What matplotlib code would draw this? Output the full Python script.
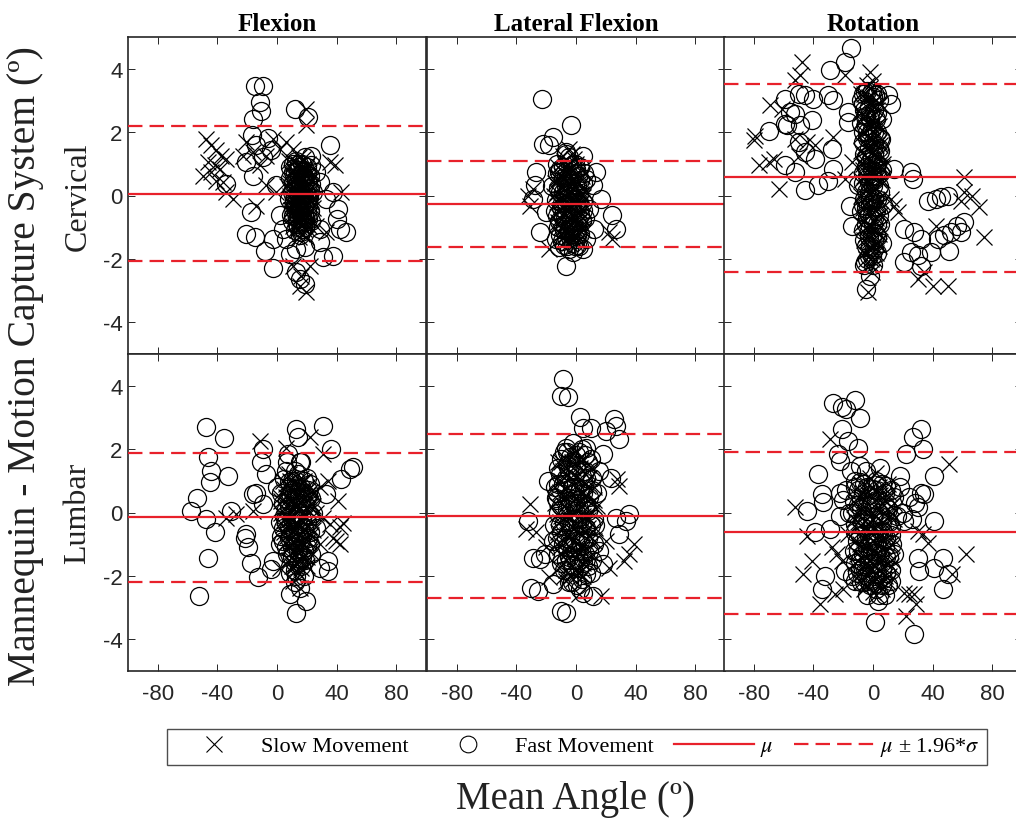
import matplotlib
matplotlib.use("Agg")
import matplotlib.pyplot as plt
from matplotlib.lines import Line2D
import numpy as np

plt.rcParams['font.family'] = ['Liberation Sans', 'DejaVu Sans']
plt.rcParams['mathtext.fontset'] = 'stix'
plt.rcParams['axes.unicode_minus'] = False

SERIF = ['Liberation Serif', 'DejaVu Serif']

col_titles = ['Flexion', 'Lateral Flexion', 'Rotation']
row_titles = ['Cervical', 'Lumbar']
x_ticks = [-80, -40, 0, 40, 80]
y_ticks = [-4, -2, 0, 2, 4]

# (mean, mean - 1.96 sd, mean + 1.96 sd) per panel
cerv_flex_lines = (0.05, -2.08, 2.18)
cerv_lat_lines = (-0.26, -1.63, 1.08)
cerv_rot_lines = (0.58, -2.40, 3.53)
lumb_flex_lines = (-0.14, -2.19, 1.88)
lumb_lat_lines = (-0.10, -2.70, 2.47)
lumb_rot_lines = (-0.63, -3.19, 1.92)

# points: (mean angle, difference)
cerv_flex_slow = [
    (-47.4, 1.79), (-44, 1.58), (-40.7, 1.42), (-37.4, 1.26), (-46.3, 1.05), (-41.8, 0.95),
    (-49.7, 0.63), (-44, 0.74), (-38.5, 0.84), (-34, 1.16), (-29.5, -0.1), (-34, 0.1),
    (-40.7, 0.47), (-36.2, 0.42), (-20.6, 1.68), (-16, 1.37), (-11.6, 0.95), (-7.2, 1.26),
    (-22.8, 1.26), (-2.7, 1.79), (1.8, 1.47), (6.3, 1.68), (10.7, 1.47), (19.7, 2.74),
    (19.7, 2.21), (35.3, 1.05), (38.7, 0.95), (43.2, 0.1), (-7.2, 0.32), (-13.9, -0.32),
    (-0.4, 0.1), (15.2, -2.84), (19.7, -3.05), (16.3, -2.53), (10.7, -2.21), (21.9, -2.21),
    (26.4, -0.95), (33, -1.16),
    (8, 1.1), (12, 0.9), (15, 1.2), (18, 0.8), (21, 1.0), (10, 0.5), (14, 0.4), (17, 0.6),
    (20, 0.3), (23, 0.5), (9, 0.0), (12, -0.2), (16, 0.1), (19, -0.3), (22, 0.0), (11, -0.6),
    (14, -0.8), (17, -0.5), (20, -0.9), (24, -0.4), (7, 0.3), (13, 0.7), (16, -0.2), (18, 0.2),
    (15, -1.0), (12, 0.2), (19, 0.9), (10, -0.3), (21, -0.6), (17, -1.2), (13, -0.4), (16, 0.8),
    (14, 1.0), (11, 0.8), (20, 0.6),
    (9.5, 0.7), (12.5, 0.55), (15.5, 0.85), (18.5, 0.45), (21.5, 0.75), (10.5, 0.15),
    (13.5, 0.05), (16.5, 0.35), (19.5, 0.1), (22.5, -0.15), (9.5, -0.45), (12.5, -0.65),
    (15.5, -0.45), (18.5, -0.75), (21.5, -0.95), (13.5, -1.1), (16.5, -0.95), (19.5, -1.3),
    (11.5, 1.05), (17.5, 1.15), (14.5, -0.1), (20.5, 0.05),
    (8.5, 0.4), (11, 0.25), (13, -0.05), (15, 0.35), (17, 0.2), (19, 0.65), (21, 0.15),
    (23, -0.2), (10, -0.1), (12, -0.45), (14, -0.2), (16, -0.65), (18, -0.4), (20, -0.55),
    (22, -0.75), (11, -0.95), (13, -0.7), (15, -1.3), (18, -1.05), (16, 0.55), (14, 0.15),
    (12, 0.65), (19, 0.25), (17, -0.05), (15, 0.95),
]
cerv_flex_fast = [
    (-15, 3.47), (-9.4, 3.45), (-11.6, 2.95), (-10.5, 2.68), (-16, 2.42), (11.9, 2.74),
    (20.8, 2.47), (-17, 1.9), (-14, 1.58), (-6, 1.8), (-3.8, 1.42), (-9.4, 1.2), (-20.6, 1.05),
    (-16, 0.63), (-34, 0.37), (-17.2, -0.53), (-20.6, -1.21), (-15, -1.32), (-8.3, -1.74),
    (-2.7, -2.3), (8.5, -1.84), (13, -1.68), (18.6, -1.63), (28.6, -1.47), (37.6, -1.9),
    (30.9, -1.95), (35.3, 1.58), (37.6, 0.1), (41, -0.42), (46.5, -1.16), (42, -1.05),
    (28.6, -1.05), (33, -0.1), (26.4, 0.74), (23, 1.26), (4, -1.05), (1.8, -0.63), (-0.4, 0.32),
    (15.2, -2.63), (18.6, -2.79), (13, -2.42), (28.6, 0.42), (40, -0.74), (-2.7, -1.37),
    (6.3, -1.37),
    (9, 0.9), (13, 1.1), (17, 1.0), (20, 0.7), (11, 0.4), (15, 0.6), (19, 0.4), (22, 0.2),
    (8, -0.1), (12, 0.0), (16, -0.3), (18, -0.1), (21, -0.3), (10, -0.8), (14, -0.5), (17, -0.8),
    (19, -1.0), (23, -0.8), (12, -1.1), (15, 0.2), (13, -0.2), (18, 0.6), (16, 0.4), (20, -0.1),
    (14, 0.8), (11, -0.4), (22, 0.6), (15, -0.7), (24, 0.1), (18, -0.6),
    (10.5, 1.0), (14.5, 0.9), (18.5, 1.2), (12.5, 0.3), (16.5, 0.55), (20.5, 0.35),
    (11.5, -0.15), (14.5, -0.35), (17.5, 0.05), (21.5, -0.05), (9.5, -0.6), (13.5, -0.9),
    (17.5, -1.05), (20.5, -0.75), (15.5, -1.25), (22.5, 0.95),
    (9, 0.55), (11, 0.75), (13, 0.45), (15, 1.0), (17, 0.75), (19, 0.15), (21, 0.45),
    (23, 0.35), (10, 0.1), (12, -0.3), (14, 0.05), (16, -0.1), (18, -0.35), (20, -0.45),
    (22, -0.5), (11, -0.65), (13, -0.55), (15, -0.4), (17, -0.65), (19, -0.7), (14, -1.0),
    (16, -1.15), (18, -0.85), (12, 0.75), (20, 0.9),
]

cerv_lat_slow = [
    (22.2, -1.16), (24.4, -1.37), (-17.8, -1.68), (-32.2, 0.0), (-28.9, 0.21), (-31.1, -0.32),
    (-4.4, 1.47), (-8.9, 1.26),
    (-12, 0.9), (-8, 1.1), (-4, 0.8), (0, 1.0), (4, 0.6), (-14, 0.4), (-10, 0.3), (-6, 0.5),
    (-2, 0.2), (2, 0.4), (6, 0.1), (-13, -0.2), (-9, -0.1), (-5, -0.4), (-1, -0.2), (3, -0.5),
    (-11, -0.7), (-7, -0.9), (-3, -0.6), (1, -0.9), (5, -1.1), (-9, -1.3), (-5, -1.5), (-1, -1.3),
    (-15, 0.0), (-3, 1.3), (-6, -1.2), (2, -1.4), (-12, -0.5), (-8, 0.7), (0, 0.0), (4, -0.2),
    (-4, -0.9), (-10, -1.0),
    (-11.5, 0.55), (-7.5, 0.9), (-3.5, 0.5), (0.5, 0.65), (-12.5, 0.1), (-8.5, 0.2),
    (-4.5, 0.15), (-0.5, -0.05), (3.5, 0.05), (-10.5, -0.45), (-6.5, -0.6), (-2.5, -0.35),
    (1.5, -0.55), (5.5, -0.45), (-8.5, -0.8), (-4.5, -1.1), (-0.5, -0.75), (3.5, -0.95),
    (-7.5, -1.45), (-2.5, -1.2), (1.5, -1.15), (-5.5, 0.95), (-1.5, 1.15),
    (-13, 0.55), (-10, 0.65), (-7, 0.45), (-4, 0.3), (-1, 0.45), (2, 0.15), (5, -0.05),
    (-11, -0.1), (-8, -0.3), (-5, 0.05), (-2, -0.1), (1, -0.3), (4, -0.7), (-12, -0.85),
    (-9, -0.55), (-6, -0.45), (-3, -0.25), (0, -0.6), (3, -0.8), (-10, -1.2), (-7, -1.1),
    (-4, -1.25), (-1, -1.05), (2, -1.1), (-6, 0.75), (-2, 0.8),
]
cerv_lat_fast = [
    (-22.9, 3.03), (-3.3, 2.21), (-15.6, 1.84), (-22.2, 1.63), (-17.8, 1.58), (4.4, 1.26),
    (6.7, 0.53), (11.1, 0.32), (16.7, -0.1), (24.4, -0.63), (26.7, -1.05), (-6.7, -2.21),
    (4.4, -1.68), (6.7, -1.37), (-26.7, 0.74), (-27.8, 0.32), (-28.9, -0.1), (-20, -0.53),
    (-24.4, -1.16), (-13.3, -1.37), (-11.1, -1.63), (-2.2, -1.79), (0, -1.37), (12.2, -1.05),
    (8.9, -0.42), (13.3, 0.74), (-11.1, 0.74), (-6.7, 1.37),
    (-13, 0.7), (-9, 0.9), (-5, 1.2), (-1, 0.7), (3, 0.9), (-11, 0.1), (-7, 0.3), (-3, 0.0),
    (1, 0.3), (5, 0.4), (-14, -0.5), (-10, -0.4), (-6, -0.1), (-2, -0.5), (2, -0.2), (6, -0.7),
    (-8, -1.1), (-4, -1.3), (0, -1.1), (4, -0.8), (-12, -1.0), (-6, -1.6), (-2, -1.5), (2, -1.6),
    (-16, 0.3), (-1, 1.0), (-4, 0.4), (3, -1.2),
    (-12.5, 1.0), (-8.5, 0.55), (-2.5, 0.95), (1.5, 0.6), (-13.5, -0.15), (-9.5, -0.25),
    (-5.5, 0.25), (0.5, -0.35), (4.5, -0.45), (-11.5, -0.8), (-7.5, -0.75), (-3.5, -0.95),
    (1.5, -0.85), (-9.5, -1.45), (-4.5, -1.7), (0.5, -1.55), (5.5, 0.7), (-6.5, 1.3),
    (-11, 0.85), (-7, 0.65), (-3, 0.65), (0, 0.85), (3, 0.5), (-12, 0.25), (-9, 0.1),
    (-5, -0.05), (-1, 0.15), (2, 0.05), (5, -0.2), (-13, -0.65), (-9, -0.7), (-6, -0.35),
    (-3, -0.45), (0, -0.2), (3, -0.6), (-11, -1.25), (-7, -1.3), (-3, -1.1), (1, -1.25),
    (-8, -1.55), (-5, -1.1), (-1, -1.6),
]

cerv_rot_slow = [
    (-47.8, 4.21), (-48.9, 3.79), (-52.2, 3.63), (-2.2, 3.89), (-18.9, 3.79), (-68.9, 2.84),
    (-61.1, 2.74), (-78.9, 1.89), (-80, 1.74), (-76.7, 0.95), (-70, 1.05), (-66.7, 1.16),
    (-63.3, 0.21), (-52.2, 1.79), (-44.4, 1.68), (-38.9, 1.58), (-26.7, 1.84), (-50, 1.26),
    (-14.4, 1.05), (-18.9, 0.53), (61.1, 0.58), (61.1, 0.1), (66.7, 0.0), (71.1, -0.37),
    (74.4, -1.32), (58.9, -0.16), (42.2, -0.95), (40, -2.84), (50, -2.84), (30, -2.63),
    (34.4, -2.42), (12.2, -0.1), (14.4, -0.32), (16.7, -0.53), (-1.1, -2.0), (-3.3, -3.05),
    (-6, 3.2), (-2, 3.4), (2, 3.0), (-8, 2.6), (-4, 2.8), (0, 2.5), (4, 2.2), (-6, 2.0),
    (-2, 1.8), (2, 1.6), (-8, 1.4), (-4, 1.2), (0, 1.0), (4, 0.9), (-6, 0.6), (-2, 0.4),
    (2, 0.2), (6, 0.5), (-8, 0.0), (-4, -0.2), (0, -0.4), (4, -0.1), (-6, -0.8), (-2, -1.0),
    (2, -0.7), (-4, -1.4), (0, -1.6), (4, -1.2), (-2, -2.2), (-6, -1.8), (1, 2.8), (-3, 2.3),
    (3, 1.2), (-1, 0.7), (5, -0.6), (-5, 0.2), (7, 1.0), (-7, 1.0),
    (-5, 3.0), (-1, 2.9), (3, 2.7), (-7, 2.4), (-3, 2.1), (1, 2.3), (5, 1.6), (-5, 1.6),
    (-1, 1.5), (3, 1.9), (-7, 0.8), (-3, 0.7), (1, 0.6), (5, 1.3), (-5, 0.0), (-1, 0.1),
    (3, -0.3), (-7, -0.4), (-3, -0.9), (1, -1.1), (5, -1.0), (-5, -1.2), (-1, -1.7), (3, -1.5),
    (-3, -1.7), (1, -2.0), (-4, 3.5), (0, 3.6),
    (-8, 3.2), (-3, 3.1), (1, 3.3), (5, 2.9), (-6, 2.5), (-1, 2.2), (3, 2.2), (-8, 1.9),
    (-4, 1.5), (0, 1.4), (4, 1.7), (-6, 1.1), (-2, 0.9), (2, 0.8), (6, 0.9), (-8, 0.5),
    (-4, 0.4), (0, 0.2), (4, 0.5), (-6, -0.3), (-2, -0.6), (2, -0.2), (6, -0.2), (-8, -0.9),
    (-4, -1.0), (0, -1.2), (4, -1.6), (-6, -1.4), (-2, -1.4), (2, -1.8), (-5, -2.0), (-1, -2.4),
]
cerv_rot_fast = [
    (-14.9, 4.65), (-18.9, 4.21), (-28.9, 3.95), (-50, 3.21), (-45.6, 3.16), (-40, 3.05),
    (-30, 3.16), (-26.7, 3.0), (-58.9, 3.05), (-55.6, 2.63), (-58.9, 2.26), (-52.2, 2.58),
    (-57.8, 2.21), (-70, 2.05), (-48.9, 2.21), (-41.1, 2.37), (-50, 1.68), (-45.6, 1.37),
    (-38.9, 1.16), (-58.9, 0.95), (-52.2, 0.74), (-45.6, 0.16), (-36.7, 0.32), (-30, 0.47),
    (-26.7, 0.84), (-27.8, 1.47), (-16.7, 2.63), (-16.7, 2.32), (-10, 0.32), (-15.6, -0.32),
    (-14.4, -0.95), (-5.6, -2.11), (-4.4, -2.95), (-2.2, -2.53), (-5.6, 3.26), (1.1, 3.16),
    (10, 3.16), (12.2, 2.89), (5.6, 1.79), (14.4, 0.84), (25.6, 0.74), (26.7, 0.53),
    (36.7, -0.16), (42.2, -0.1), (45.6, -0.05), (50, 0.0), (21.1, -1.05), (27.8, -1.16),
    (32.2, -1.37), (25.6, -1.79), (30, -1.89), (38.9, -1.79), (21.1, -2.11), (32.2, -2.21),
    (52.2, -1.16), (56.7, -0.95), (58.9, -1.16), (47.8, -1.26), (61.1, -0.84), (51.1, -1.74),
    (43.3, -1.37),
    (-4, 3.3), (0, 3.1), (-7, 2.9), (3, 2.6), (-2, 2.4), (-5, 2.2), (1, 2.0), (5, 1.8),
    (-7, 1.7), (-3, 1.5), (1, 1.3), (-5, 0.9), (-1, 0.8), (3, 0.6), (-7, 0.4), (-3, 0.1),
    (1, -0.1), (5, 0.1), (-5, -0.4), (-1, -0.6), (3, -0.9), (-7, -1.1), (-3, -1.3), (1, -1.4),
    (-5, -1.6), (-1, -1.9), (3, -1.8), (-8, 2.3), (6, 2.4), (-2, -0.1), (2, 0.9), (-4, 1.8),
    (0, 0.3), (7, -0.3), (-8, -0.5), (6, -1.5),
    (-6, 2.7), (-2, 2.6), (2, 2.4), (-4, 2.0), (0, 1.7), (4, 1.5), (-6, 1.3), (-2, 1.1),
    (2, 1.0), (6, 0.8), (-4, 0.6), (0, 0.6), (4, 0.3), (-6, -0.1), (-2, -0.3), (2, -0.5),
    (-4, -0.7), (0, -0.9), (4, -0.6), (-6, -1.4), (-2, -1.6), (2, -1.2), (-4, -2.0), (0, -2.2),
    (-1, 3.3), (3, 3.2), (-8, 3.0),
    (-7, 3.2), (-3, 2.8), (1, 2.7), (4, 3.0), (-5, 2.5), (-1, 2.1), (3, 2.0), (-7, 2.0),
    (-3, 1.9), (1, 1.6), (5, 1.4), (-5, 1.2), (-1, 1.2), (3, 1.0), (-7, 0.7), (-3, 0.4),
    (1, 0.5), (5, 0.7), (-5, 0.1), (-1, -0.2), (3, -0.1), (-7, -0.3), (-3, -0.6), (1, -0.7),
    (5, -0.9), (-5, -0.9), (-1, -1.3), (3, -1.3), (-3, -1.9), (1, -1.7), (-6, -2.2),
]

lumb_flex_slow = [
    (-11.6, 2.26), (6.3, 2.05), (21.9, 2.37), (30.9, 1.84), (-27.3, -0.05), (-34, -0.16),
    (28.6, 0.79), (34.2, 1.0), (40.9, 0.37), (35.3, -0.37), (42, -0.47), (44.3, -0.32),
    (37.6, -0.79), (39.8, -0.89), (30.9, -0.16), (28.6, -1.0), (42, -1.0), (15.2, -2.37),
    (10.7, -2.16), (1.8, -1.74), (-16, 0.05),
    (4, 1.0), (8, 1.2), (12, 0.9), (16, 1.1), (20, 0.8), (24, 0.6), (6, 0.5), (10, 0.4),
    (14, 0.6), (18, 0.3), (22, 0.2), (3, 0.0), (7, -0.1), (11, 0.1), (15, -0.2), (19, -0.1),
    (23, -0.3), (5, -0.6), (9, -0.5), (13, -0.8), (17, -0.6), (21, -0.9), (8, -1.1), (12, -1.3),
    (16, -1.2), (20, -1.4), (10, -1.7), (14, -1.9), (18, -1.6), (2, 0.5), (26, 0.0), (13, 0.3),
    (17, 0.7), (9, 0.8), (11, -0.9), (15, -1.5),
    (5, 0.75), (9, 1.0), (13, 0.6), (17, 0.95), (21, 0.55), (7, 0.25), (11, 0.35), (15, 0.15),
    (19, 0.45), (23, 0.3), (5, -0.25), (9, -0.2), (13, -0.35), (17, -0.25), (21, -0.45),
    (7, -0.75), (11, -0.6), (15, -0.95), (19, -0.8), (23, -0.7), (9, -1.3), (13, -1.6),
    (17, -1.4), (11, -1.9),
    (3, 0.35), (6, 0.9), (10, 0.75), (14, 0.85), (18, 1.0), (22, 0.65), (5, 0.15), (8, 0.45),
    (12, 0.2), (16, 0.5), (20, 0.1), (24, 0.2), (4, -0.4), (8, -0.35), (12, -0.55), (16, -0.45),
    (20, -0.6), (24, -0.55), (6, -0.95), (10, -1.0), (14, -1.1), (18, -1.0), (22, -1.2),
    (8, -1.5), (12, -1.7), (16, -1.75), (20, -1.7),
]
lumb_flex_fast = [
    (-47.9, 2.71), (-35.8, 2.35), (-46.3, 1.74), (-44, 1.32), (-45, 0.95), (-32.9, 1.16),
    (-54, 0.47), (-57.5, 0.05), (-47.4, -0.21), (-41.8, -0.63), (-46.3, -1.44), (-52.6, -2.63),
    (-30.6, 0.05), (-21.7, -0.79), (-19.5, -1.1), (-20.6, -0.68), (-17.2, -1.58), (-12.8, -2.05),
    (-16.1, 0.58), (-13.9, 0.63), (-9.4, 0.26), (-7.2, 1.21), (-10.5, 1.58), (-9.4, 2.0),
    (-2.7, -1.53), (-3.8, -1.79), (8.5, -2.58), (13, -3.16), (19.7, -2.79), (15.2, -2.37),
    (13, 2.63), (14.1, 2.37), (30.9, 2.74), (36.5, 2.0), (7.4, 1.84), (15.2, 1.58), (43.2, 1.05),
    (48.8, 1.37), (51, 1.42), (33.1, 0.58), (34.2, -1.53), (34.2, -1.84), (28.6, -1.74),
    (1.8, -1.0),
    (6, 1.3), (10, 1.0), (14, 1.2), (18, 1.0), (22, 0.9), (4, 0.3), (8, 0.2), (12, 0.5),
    (16, 0.3), (20, 0.5), (24, 0.0), (2, -0.3), (6, -0.3), (10, -0.2), (14, -0.4), (18, -0.5),
    (22, -0.6), (4, -0.9), (8, -0.8), (12, -1.0), (16, -0.9), (20, -1.1), (10, -1.4), (14, -1.6),
    (18, -2.0), (12, -2.2), (26, -0.5), (0, 0.8), (16, 1.6), (7, 1.6),
    (8, 0.95), (12, 1.3), (16, 0.8), (20, 1.1), (6, 0.1), (10, 0.7), (14, 0.0), (18, 0.6),
    (22, -0.1), (4, -0.5), (8, -0.5), (12, -0.6), (16, -0.6), (20, -0.3), (6, -1.1), (10, -1.1),
    (14, -1.2), (18, -1.2), (22, -1.0), (12, -1.8), (16, -1.7),
    (5, 1.05), (9, 0.6), (13, 1.0), (17, 0.45), (21, 0.7), (3, 0.6), (7, 0.4), (11, -0.05),
    (15, 0.45), (19, 0.25), (23, 0.45), (5, -0.1), (9, -0.7), (13, -0.15), (17, -0.2),
    (21, -0.8), (3, -0.75), (7, -1.3), (11, -1.25), (15, -0.75), (19, -1.5), (23, -1.3),
    (9, -1.9), (13, -2.0), (17, -1.4),
]

lumb_lat_slow = [
    (-31.1, 0.26), (-33.3, -0.53), (-26.7, -0.63), (27.8, 1.05), (28.9, 0.84), (38.9, -1.0),
    (35.6, -1.32), (32.2, -1.53), (22.2, -1.74), (16.7, -2.63), (2.2, -2.58), (-17.8, -2.05),
    (-11.1, -1.74), (-6.7, -2.16), (-20, -1.1), (20, -0.89),
    (-10, 1.6), (-4, 1.9), (2, 1.7), (8, 1.5), (-12, 1.0), (-6, 1.2), (0, 1.1), (6, 0.9),
    (12, 0.8), (-14, 0.3), (-8, 0.5), (-2, 0.4), (4, 0.2), (10, 0.3), (-11, -0.3), (-5, -0.2),
    (1, -0.4), (7, -0.1), (13, -0.5), (-9, -0.9), (-3, -0.8), (3, -1.1), (9, -0.9), (-7, -1.5),
    (-1, -1.4), (5, -1.6), (11, -1.3), (-4, -2.0), (2, -1.9), (-13, -1.0), (-6, 0.8), (5, 0.6),
    (0, -0.8), (8, -0.5), (-2, 1.4), (14, 0.2),
    (-9, 1.3), (-3, 1.6), (3, 1.4), (9, 1.1), (-11, 0.65), (-5, 0.6), (1, 0.75), (7, 0.55),
    (-13, -0.05), (-7, 0.15), (-1, 0.05), (5, -0.1), (11, 0.0), (-9, -0.5), (-3, -0.45),
    (3, -0.6), (9, -0.7), (-11, -1.1), (-5, -1.2), (1, -1.0), (7, -1.2), (-7, -1.8), (-1, -1.8),
    (5, -2.0),
    (-12, 1.6), (-7, 1.7), (-1, 1.9), (5, 1.7), (11, 1.4), (-10, 1.0), (-4, 1.1), (2, 1.05),
    (8, 0.85), (-12, 0.4), (-6, 0.3), (0, 0.45), (6, 0.45), (12, 0.4), (-10, -0.1), (-4, 0.05),
    (2, -0.15), (8, -0.25), (-12, -0.6), (-6, -0.7), (0, -0.55), (6, -0.6), (12, -0.9),
    (-10, -1.3), (-4, -1.1), (2, -1.3), (8, -1.5), (-8, -2.0), (-2, -2.1), (4, -1.8),
]
lumb_lat_fast = [
    (-8.9, 4.21), (-10, 3.68), (-5.6, 3.63), (2.9, 3.0), (4.4, 2.68), (10, 2.68), (25.6, 2.95),
    (26.7, 2.74), (28.9, 2.32), (20, 2.58), (-6.7, 2.05), (6.7, 2.05), (17.8, 1.84),
    (-18.9, 1.0), (23.3, 1.1), (15.6, 1.32), (35.6, -0.05), (33.3, -0.26), (26.7, -0.16),
    (28.9, -0.68), (-32.2, -0.26), (-28.9, -1.42), (-24.4, -1.47), (-21.1, -1.32), (-30, -2.37),
    (-25.6, -2.47), (-15.6, -2.26), (-10, -3.1), (-6.7, -3.16), (4.4, -2.53), (11.1, -2.63),
    (6.7, -1.95), (17.8, -1.63), (15.6, -1.21), (-13.3, 0.47), (-15.6, -0.89), (2.2, -1.74),
    (-8, 1.9), (-2, 2.2), (4, 2.0), (10, 1.7), (-12, 1.4), (-6, 1.5), (0, 1.5), (6, 1.3),
    (-14, 0.8), (-9, 0.9), (-3, 0.8), (3, 0.7), (9, 0.5), (14, 0.6), (-12, 0.0), (-6, 0.1),
    (0, 0.0), (6, 0.2), (12, -0.2), (-10, -0.6), (-4, -0.5), (2, -0.7), (8, -0.8), (-12, -1.3),
    (-6, -1.1), (0, -1.2), (6, -1.3), (12, -1.0), (-8, -1.8), (-2, -1.7), (4, -2.1), (10, -1.9),
    (-15, -0.4), (-1, 0.3), (3, -0.2), (-5, -1.4),
    (-10, 1.7), (-4, 1.75), (2, 1.9), (8, 1.6), (-12, 0.9), (-7, 1.1), (-1, 1.2), (5, 1.0),
    (11, 1.1), (-13, 0.4), (-5, 0.45), (1, 0.4), (7, 0.25), (-8, -0.3), (-2, -0.2), (4, -0.4),
    (10, -0.4), (-13, -0.8), (-7, -0.8), (-1, -0.9), (5, -0.9), (11, -1.5), (-10, -1.6),
    (-4, -1.5), (2, -1.5), (8, -1.7), (-5, -2.2), (1, -2.3),
    (-6, 1.9), (0, 1.8), (6, 1.8), (-11, 1.2), (-5, 1.3), (1, 1.3), (7, 1.1), (-13, 0.6),
    (-7, 0.7), (-1, 0.6), (5, 0.6), (11, 0.7), (-10, 0.2), (-4, 0.25), (2, 0.15), (8, 0.05),
    (-11, -0.4), (-5, -0.3), (1, -0.2), (7, -0.5), (13, -0.4), (-9, -1.0), (-3, -1.1),
    (3, -0.9), (9, -1.2), (-7, -1.5), (-1, -1.5), (5, -1.6), (-3, -2.2), (3, -2.4),
]

lumb_rot_slow = [
    (-28.9, 2.32), (51.1, 1.53), (2.2, 1.26), (-52.2, 0.16), (-44.4, -0.74), (-41.1, -1.53),
    (-46.7, -1.95), (-35.6, -2.89), (-25.6, -2.58), (-20, -2.42), (-27.8, -1.1), (-24.4, -1.32),
    (-21.1, -1.53), (62.2, -1.32), (53.3, -1.95), (22.2, -3.26), (28.9, -2.89), (24.4, -2.58),
    (27.8, -2.58), (21.1, -2.53), (33.3, -0.68), (36.7, -0.95), (30, -0.58), (-16.7, -0.68),
    (-8, 0.9), (-2, 1.1), (4, 0.8), (10, 0.9), (-12, 0.3), (-6, 0.4), (0, 0.5), (6, 0.3),
    (12, 0.2), (-10, -0.3), (-4, -0.2), (2, -0.1), (8, -0.4), (14, -0.2), (-12, -0.9), (-6, -0.8),
    (0, -0.9), (6, -0.7), (12, -1.0), (-8, -1.4), (-2, -1.3), (4, -1.5), (10, -1.6), (-10, -2.0),
    (-4, -1.9), (2, -2.1), (8, -2.0), (-6, -2.4), (0, -2.5), (6, -2.4), (-1, 0.0), (3, -1.0),
    (-3, -0.6), (9, -1.2), (-9, -1.1), (1, -1.7),
    (-7, 0.6), (-1, 0.8), (5, 0.55), (11, 0.6), (-11, 0.0), (-5, 0.1), (1, 0.2), (7, 0.0),
    (13, -0.05), (-9, -0.6), (-3, -0.35), (3, -0.35), (9, -0.7), (-11, -1.3), (-5, -1.1),
    (1, -1.2), (7, -1.3), (13, -1.5), (-7, -1.7), (-1, -1.6), (5, -1.8), (11, -2.0), (-8, -2.2),
    (-2, -2.1), (4, -2.3),
    (-10, 0.5), (-4, 0.6), (2, 0.65), (8, 0.35), (14, 0.3), (-13, -0.2), (-7, 0.1), (-1, -0.2),
    (5, 0.1), (11, -0.1), (-11, -0.5), (-5, -0.45), (1, -0.55), (7, -0.9), (13, -0.8),
    (-9, -1.0), (-3, -1.0), (3, -1.3), (9, -1.0), (-12, -1.6), (-6, -1.5), (0, -1.4), (6, -1.5),
    (12, -1.7), (-8, -1.9), (-2, -1.8), (4, -2.0), (10, -2.2), (-4, -2.3), (2, -2.6),
]
lumb_rot_fast = [
    (-26.7, 3.44), (-21.1, 3.32), (-17.8, 3.26), (-12.2, 3.55), (-8.9, 2.98), (-21.1, 2.63),
    (-16.7, 2.26), (-23.3, 1.84), (-22.2, 1.63), (-10, 2.05), (32.2, 2.63), (26.7, 2.37),
    (33.3, 2.0), (22.2, 1.86), (-36.7, 1.23), (-8.9, 1.47), (17.8, 1.16), (41.1, 1.16),
    (-34.4, 0.58), (-44.4, 0.05), (-33.3, 0.32), (-38.9, -0.63), (-28.9, -0.53), (-22.2, -0.1),
    (-32.2, -2.0), (-34.4, -2.42), (1.1, -3.47), (27.8, -3.84), (30, -1.42), (31.1, -1.84),
    (41.1, -1.74), (46.7, -1.42), (50, -1.95), (46.7, -2.42), (41.1, -0.26), (34.4, 0.58),
    (30, 0.16), (21.1, -0.26), (3.3, -2.79), (12.2, -2.16), (-12.2, -2.16), (-18.9, -1.84),
    (-15, 1.3), (-12, 1.0), (-18, 0.7), (-20, 0.4), (-16, 0.0), (-22, 0.6), (18, 0.8),
    (24, 0.5), (28, 0.3), (32, 0.6), (20, 0.0), (26, -0.2),
    (-10, 0.7), (-4, 0.8), (2, 1.0), (8, 0.6), (14, 0.5), (-14, 0.0), (-8, 0.1), (-2, 0.2),
    (4, 0.0), (10, 0.1), (-12, -0.6), (-6, -0.5), (0, -0.4), (6, -0.3), (12, -0.7), (-10, -1.2),
    (-4, -1.1), (2, -1.3), (8, -1.1), (14, -1.3), (-12, -1.6), (-6, -1.7), (0, -1.6), (6, -1.8),
    (12, -1.8), (-8, -2.2), (-2, -2.3), (4, -2.6), (10, -2.3), (-14, -2.0), (16, -0.1),
    (-5, 1.3), (5, 1.4), (-1, -0.9), (3, -0.6), (-3, -1.9),
    (-9, 0.95), (-3, 0.55), (3, 0.7), (9, 0.85), (-13, 0.35), (-7, -0.2), (-1, 0.3), (5, -0.1),
    (11, -0.3), (-11, -0.9), (-5, -0.8), (1, -0.7), (7, -0.6), (13, -1.0), (-9, -1.5),
    (-3, -1.4), (3, -1.6), (9, -1.4), (-11, -1.9), (-5, -2.0), (1, -2.0), (7, -2.1), (-4, -2.6),
    (2, -2.4), (8, -2.6),
    (-12, 0.8), (-6, 0.9), (0, 0.75), (6, 0.9), (12, 0.7), (-10, 0.25), (-4, 0.2), (2, 0.4),
    (8, 0.25), (-12, -0.35), (-6, -0.1), (0, -0.15), (6, -0.55), (12, -0.45), (-9, -0.75),
    (-3, -0.75), (3, -0.95), (9, -0.8), (-13, -1.2), (-7, -1.3), (-1, -1.2), (5, -1.3),
    (11, -1.4), (-9, -1.8), (-3, -1.6), (3, -1.9), (9, -1.9), (-6, -2.2), (0, -2.2), (6, -2.3),
]

panels = [
    [(cerv_flex_slow, cerv_flex_fast, cerv_flex_lines),
     (cerv_lat_slow, cerv_lat_fast, cerv_lat_lines),
     (cerv_rot_slow, cerv_rot_fast, cerv_rot_lines)],
    [(lumb_flex_slow, lumb_flex_fast, lumb_flex_lines),
     (lumb_lat_slow, lumb_lat_fast, lumb_lat_lines),
     (lumb_rot_slow, lumb_rot_fast, lumb_rot_lines)],
]

RED = '#e8212b'
DASH = (0, (6.5, 3.2))
AXC = '#262626'

W, H = 1016, 820
fig = plt.figure(figsize=(W / 100, H / 100), dpi=100)

left_px = [128, 427, 724]
top_px = [38, 355]
w_px, h_px = 298, 317

for r in range(2):
    for c in range(3):
        ax = fig.add_axes([left_px[c] / W, 1 - (top_px[r] + h_px) / H, w_px / W, h_px / H])
        slow, fast, lines = panels[r][c]
        slow = np.array(slow)
        fast = np.array(fast)
        ax.plot(slow[:, 0], slow[:, 1], 'x', color='black', ms=12, mew=0.9, zorder=2)
        ax.plot(fast[:, 0], fast[:, 1], 'o', mfc='none', mec='black', ms=13, mew=0.9, zorder=2)
        mu, lo, hi = lines
        ax.axhline(mu, color=RED, lw=1.6, zorder=3)
        ax.axhline(lo, color=RED, lw=1.6, ls=DASH, zorder=3)
        ax.axhline(hi, color=RED, lw=1.6, ls=DASH, zorder=3)
        ax.set_xlim(-100, 100)
        ax.set_ylim(-5, 5)
        ax.set_xticks(x_ticks)
        ax.set_yticks(y_ticks)
        ax.tick_params(direction='in', top=True, right=True, length=5, width=0.7,
                       color=AXC, labelcolor=AXC, labelsize=16)
        ax.tick_params(axis='x', pad=9)
        ax.tick_params(axis='y', pad=4)
        if c > 0:
            ax.tick_params(labelleft=False)
        if r == 0:
            ax.tick_params(labelbottom=False)
            ax.set_title(col_titles[c], fontsize=18, fontweight='bold', family=SERIF, pad=5)
        for s in ax.spines.values():
            s.set_color(AXC)
            s.set_linewidth(1.2)

for r in range(2):
    yc = 1 - (top_px[r] + h_px / 2) / H
    fig.text(78 / W, yc, row_titles[r], rotation=90, ha='center', va='center',
             fontsize=23, family=SERIF, color='#222222')

fig.text(26 / W, 1 - 366 / H, 'Mannequin - Motion Capture System (º)', rotation=90,
         ha='center', va='center', fontsize=28.5, family=SERIF, color='#222222')
fig.text(576 / W, 1 - 800 / H, 'Mean Angle (º)', ha='center', va='center',
         fontsize=28, family=SERIF, color='#222222')

handles = [
    Line2D([], [], ls='none', marker='x', color='black', ms=11, mew=0.8),
    Line2D([], [], ls='none', marker='o', mfc='none', mec='black', ms=12, mew=0.8),
    Line2D([], [], color=RED, lw=1.6),
    Line2D([], [], color=RED, lw=1.6, ls=DASH),
]
labels = ['Slow Movement', 'Fast Movement', r'$\mu$', r'$\mu$ ± 1.96*$\sigma$']
leg = fig.legend(handles, labels, loc='center', bbox_to_anchor=(577 / W, 1 - 748 / H),
                 ncol=4, frameon=True, fancybox=False, edgecolor='#222222',
                 prop={'family': SERIF, 'size': 16}, handlelength=3.6, handletextpad=0.3,
                 columnspacing=0.9, borderpad=0.3, borderaxespad=0)
leg.get_frame().set_linewidth(1.0)

fig.savefig('out.png', dpi=100)
